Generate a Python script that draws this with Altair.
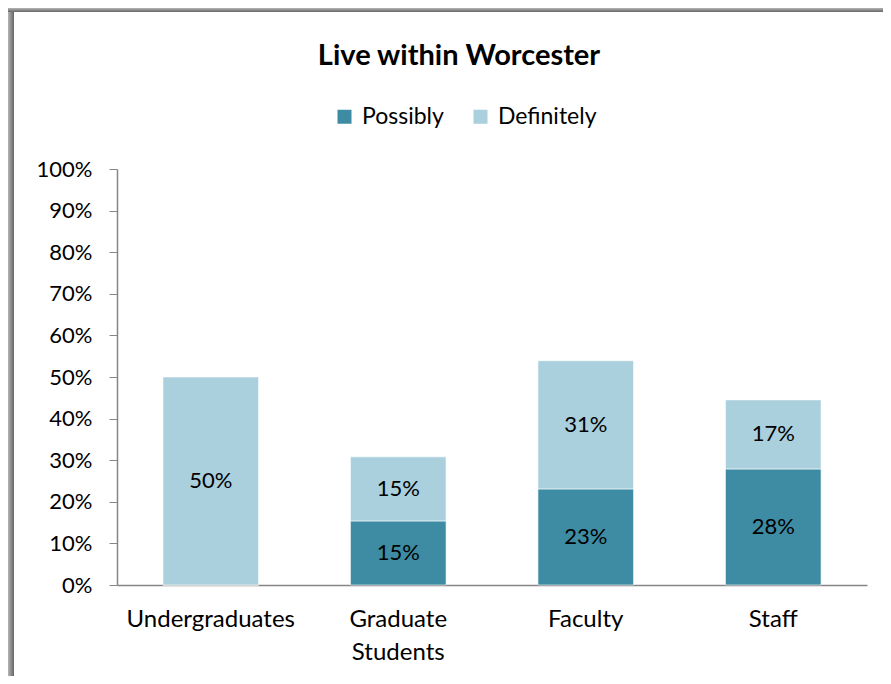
import altair as alt
import pandas as pd

# ---- data ----
categories = ["Undergraduates", "Graduate Students", "Faculty", "Staff"]
series = ["Possibly", "Definitely"]
possibly = [0.0, 0.154, 0.231, 0.279]
definitely = [0.50, 0.154, 0.308, 0.166]
colors = ["#3D8CA4", "#AACFDD"]
y_ticks = [0.0, 0.1, 0.2, 0.3, 0.4, 0.5, 0.6, 0.7, 0.8, 0.9, 1.0]
title_text = "Live within Worcester"

rows = []
for i, c in enumerate(categories):
    rows.append({"category": c, "series": "Possibly", "order": 0, "value": possibly[i]})
    rows.append({"category": c, "series": "Definitely", "order": 1, "value": definitely[i]})
df = pd.DataFrame(rows)

W, H = 750, 416
PAD_L, PAD_T, PAD_R, PAD_B = 109, 161, 16, 91
FONT = "Lato"

base = alt.Chart(df).transform_stack(
    stack="value", groupby=["category"], as_=["y0", "y1"],
    sort=[alt.SortField("order", order="ascending")]
).transform_calculate(mid="(datum.y0 + datum.y1) / 2")

x_enc = alt.X(
    "category:N", sort=categories, title=None,
    scale=alt.Scale(paddingInner=0.49, paddingOuter=0.245),
    axis=alt.Axis(
        labelAngle=0, ticks=False, labelPadding=22, labelFontSize=24,
        labelFont=FONT, labelColor="#000000", domainColor="#868686",
        domainWidth=1.5, labelLineHeight=33,
        labelExpr="datum.value == 'Graduate Students' ? ['Graduate', 'Students'] : datum.label",
    ),
)

bars = base.mark_bar(stroke="#ffffff", strokeWidth=0.6).encode(
    x=x_enc,
    y=alt.Y(
        "y0:Q", title=None,
        scale=alt.Scale(domain=[0, 1], nice=False),
        axis=alt.Axis(
            values=y_ticks, format=".0%", grid=False, tickSize=8,
            tickColor="#868686", domainColor="#868686", domainWidth=1.5,
            labelFontSize=22, labelFont=FONT, labelColor="#000000",
            labelPadding=17,
        ),
    ),
    y2="y1:Q",
    color=alt.Color(
        "series:N",
        scale=alt.Scale(domain=series, range=colors),
        legend=alt.Legend(
            title=None, orient="none", direction="horizontal",
            legendX=216, legendY=-64, symbolType="square", symbolSize=196,
            symbolStrokeWidth=0, labelFontSize=23, labelFont=FONT,
            labelColor="#000000", labelOffset=6, columnPadding=25,
        ),
    ),
    order=alt.Order("order:Q", sort="ascending"),
)

labels = base.transform_filter("datum.value > 0").mark_text(
    fontSize=22, font=FONT, color="#000000", baseline="middle", align="center"
).encode(
    x=alt.X("category:N", sort=categories),
    y=alt.Y("mid:Q"),
    text=alt.Text("value:Q", format=".0%"),
)

frame_df = pd.DataFrame({"k": [0]})
left_shadow = alt.Chart(frame_df).mark_rect(
    color=alt.Gradient(
        gradient="linear", x1=0, x2=1, y1=0, y2=0,
        stops=[alt.GradientStop(color="#b4b4b4", offset=0),
               alt.GradientStop(color="#666666", offset=1)],
    )
).encode(
    x=alt.value(-PAD_L), x2=alt.value(-PAD_L + 6),
    y=alt.value(-PAD_T + 4), y2=alt.value(H + PAD_B),
)
top_shadow = alt.Chart(frame_df).mark_rect(
    color=alt.Gradient(
        gradient="linear", x1=0, x2=0, y1=0, y2=1,
        stops=[alt.GradientStop(color="#b4b4b4", offset=0),
               alt.GradientStop(color="#666666", offset=1)],
    )
).encode(
    x=alt.value(-PAD_L), x2=alt.value(W + PAD_R),
    y=alt.value(-PAD_T), y2=alt.value(-PAD_T + 4),
)

chart = alt.layer(left_shadow, top_shadow, bars, labels).properties(
    width=W, height=H,
    autosize=alt.AutoSizeParams(type="none"),
    padding={"left": PAD_L, "top": PAD_T, "right": PAD_R, "bottom": PAD_B},
    background="#ffffff",
    title=alt.TitleParams(
        title_text, fontSize=29, font=FONT, fontWeight="bold",
        color="#000000", anchor="middle", dx=-33, offset=-63,
    ),
).configure_view(stroke=None)

chart.save("out.html", embed_options={"renderer": "svg", "actions": False})
